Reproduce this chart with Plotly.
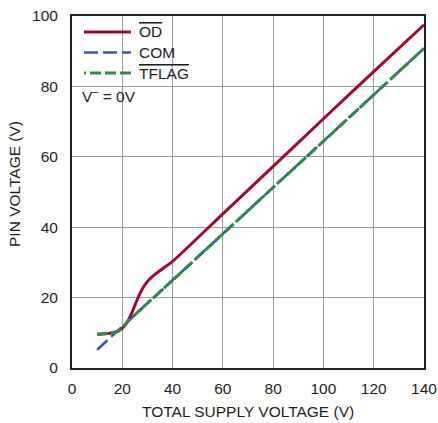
import plotly.graph_objects as go

# data
od_x = [10, 15, 18, 20, 22, 24, 26, 28, 30, 33, 36, 40, 60, 80, 100, 120, 140]
od_y = [9.6, 9.9, 10.3, 11.3, 13.0, 16.0, 19.5, 22.5, 24.6, 26.6, 28.2, 30.3, 43.8, 57.3, 70.8, 84.2, 97.5]
com_x = [10, 20, 40, 60, 80, 100, 120, 140]
com_y = [5.2, 11.8, 24.9, 38.1, 51.3, 64.4, 77.6, 90.8]
tflag_x = [10, 14, 17, 19, 21, 23, 40, 60, 80, 100, 120, 140]
tflag_y = [9.6, 9.8, 10.1, 10.8, 12.3, 13.8, 24.9, 38.1, 51.3, 64.4, 77.6, 90.8]

x_ticks = [0, 20, 40, 60, 80, 100, 120, 140]
y_ticks = [0, 20, 40, 60, 80, 100]

series_names = ['<span style="text-decoration:overline">OD</span>', "COM",
                '<span style="text-decoration:overline">TFLAG</span>']
note_text = "V<sup>–</sup> = 0V"

FONT = "Liberation Sans, Arial, sans-serif"
FS = 15.5
TXT = "#1e1e1e"
RED = "#9e0b2f"
BLUE = "#3a58aa"
GREEN = "#2f8a4c"

W, H = 438, 423
L, R, T, B = 72, 14, 16, 55
PW, PH = W - L - R, H - T - B


def px_x(p):
    return (p - L) / PW


def px_y(p):
    return (H - B - p) / PH


fig = go.Figure()
fig.add_trace(go.Scatter(x=od_x, y=od_y, mode="lines", name=series_names[0],
                         line=dict(color=RED, width=3, shape="spline", smoothing=0.6)))
fig.add_trace(go.Scatter(x=com_x, y=com_y, mode="lines", name=series_names[1],
                         line=dict(color=BLUE, width=2.6, dash="14px,5px")))
fig.add_trace(go.Scatter(x=tflag_x, y=tflag_y, mode="lines", name=series_names[2],
                         line=dict(color=GREEN, width=3, dash="11px,3px", shape="spline", smoothing=0.6)))

# white box behind legend (covers grid)
fig.add_shape(type="rect", xref="paper", yref="paper", x0=0, x1=px_x(193), y0=px_y(110), y1=1,
              fillcolor="white", line=dict(width=0), layer="between")

# manual legend
legend_rows = [(32, RED, "solid", 3), (52.5, BLUE, "14px,5px", 2.6),
               (73, GREEN, "2px,4px,11px,4px,11px,4px,11px,4px", 3)]
for (py, col, dash, w), name in zip(legend_rows, series_names):
    fig.add_shape(type="line", xref="paper", yref="paper", x0=px_x(84), x1=px_x(131), y0=px_y(py), y1=px_y(py),
                  line=dict(color=col, width=w, dash=dash), layer="above")
    fig.add_annotation(x=px_x(137), y=px_y(py), xref="paper", yref="paper", xanchor="left", yanchor="middle",
                       text=name, showarrow=False, font=dict(size=FS, color=TXT, family=FONT))
fig.add_annotation(x=px_x(80), y=px_y(95), xref="paper", yref="paper", xanchor="left", yanchor="middle",
                   text=note_text, showarrow=False, font=dict(size=FS, color=TXT, family=FONT))

# axis titles
fig.add_annotation(x=0.5, y=0, xref="paper", yref="paper", xanchor="center", yanchor="middle",
                   yshift=-(411 - (H - B)), text="TOTAL SUPPLY VOLTAGE (V)", showarrow=False,
                   font=dict(size=FS, color=TXT, family=FONT))
fig.add_annotation(x=0, y=px_y(184), xref="paper", yref="paper", xanchor="center", yanchor="middle",
                   xshift=-(L - 14), textangle=-90, text="PIN VOLTAGE (V)", showarrow=False,
                   font=dict(size=FS, color=TXT, family=FONT))

fig.update_layout(
    width=W, height=H,
    margin=dict(l=L, r=R, t=T, b=B, autoexpand=False),
    paper_bgcolor="white", plot_bgcolor="white",
    font=dict(family=FONT, size=FS, color=TXT),
    showlegend=False,
)
axis_common = dict(showgrid=True, gridcolor="#9c9c9c", gridwidth=1.4,
                   showline=True, linecolor="#222", linewidth=2, mirror=True, zeroline=False, ticks="",
                   automargin=False, tickfont=dict(size=FS, color=TXT, family=FONT))
fig.update_xaxes(range=[0, 140], tickvals=x_ticks, ticklabelstandoff=5, **axis_common)
fig.update_yaxes(range=[0, 100], tickvals=y_ticks, ticklabelstandoff=9, **axis_common)

fig.write_html("out.html", config={"displayModeBar": False},
               post_script="document.body.style.margin='0';document.body.style.overflow='hidden';")
